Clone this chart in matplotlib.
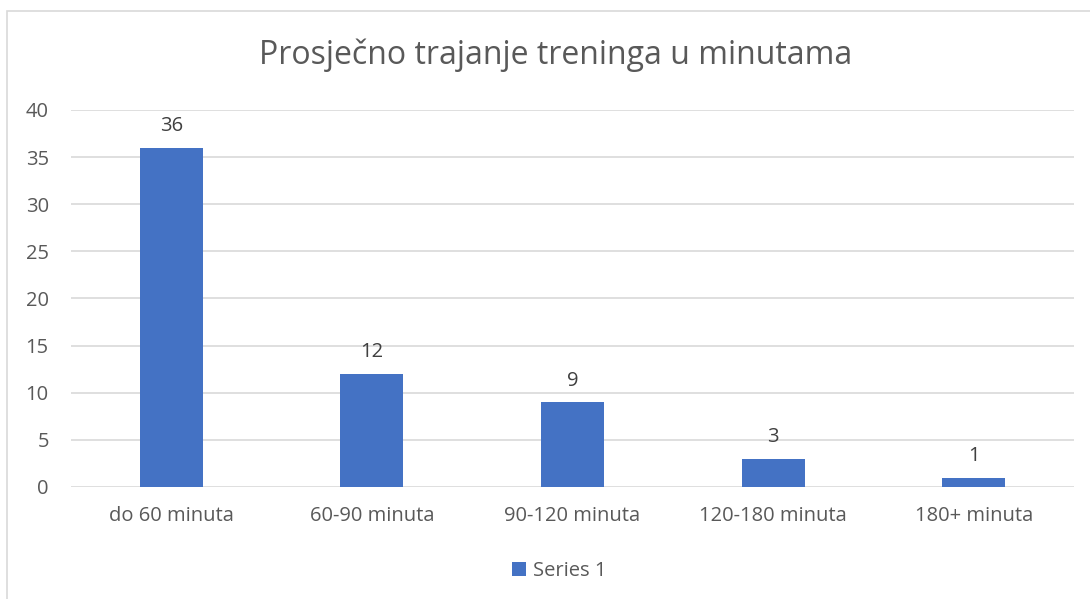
import matplotlib
matplotlib.use("Agg")
import matplotlib.pyplot as plt
from matplotlib.patches import Rectangle

categories = ["do 60 minuta", "60-90 minuta", "90-120 minuta", "120-180 minuta", "180+ minuta"]
values = [36, 12, 9, 3, 1]
series_name = "Series 1"
title = "Prosječno trajanje treninga u minutama"
yticks = [0, 5, 10, 15, 20, 25, 30, 35, 40]

W, H = 1090, 599
plt.rcParams['font.family'] = ['Open Sans', 'DejaVu Sans']
fig = plt.figure(figsize=(W / 100, H / 100), dpi=100)
fig.patch.set_facecolor('white')

# outer chart border
fig.patches.append(Rectangle((7 / W, -0.1), 1.2, 1 - 11 / H + 0.1, transform=fig.transFigure,
                             fill=False, edgecolor='#D9D9D9', linewidth=1.2, zorder=0))

ax = fig.add_axes([71 / W, 1 - 487 / H, (1074 - 71) / W, (487 - 110) / H])
x = list(range(len(categories)))
bars = ax.bar(x, values, width=0.315, color='#4472C4', zorder=3, label=series_name)
ax.set_xlim(-0.5, len(categories) - 0.5)
ax.set_ylim(0, 40)
ax.set_yticks(yticks)
ax.set_xticks(x)
ax.set_xticklabels(categories)
ax.yaxis.grid(True, color='#D9D9D9', linewidth=1.2, zorder=0)
for s in ax.spines.values():
    s.set_visible(False)
ax.tick_params(axis='both', length=0, colors='#595959', labelsize=14.5)
ax.tick_params(axis='y', pad=16)
ax.tick_params(axis='x', pad=14)
for lab in ax.get_xticklabels() + ax.get_yticklabels():
    lab.set_color('#595959')

for b, v in zip(bars, values):
    ax.annotate(str(v), (b.get_x() + b.get_width() / 2, v), xytext=(0, 12),
                textcoords='offset points', ha='center', va='baseline',
                fontsize=14.5, color='#404040')

fig.text((256 + 855) / 2 / W, 1 - 55 / H, title, ha='center', va='center',
         fontsize=23, color='#595959')

leg = fig.legend(handles=[bars], labels=[series_name], loc='center',
                 bbox_to_anchor=(559 / W, 1 - 571 / H), frameon=False,
                 fontsize=14.5, handlelength=0.7, handleheight=0.7, handletextpad=0.35)
for t in leg.get_texts():
    t.set_color('#595959')

fig.savefig("out.png", dpi=100, facecolor='white')
